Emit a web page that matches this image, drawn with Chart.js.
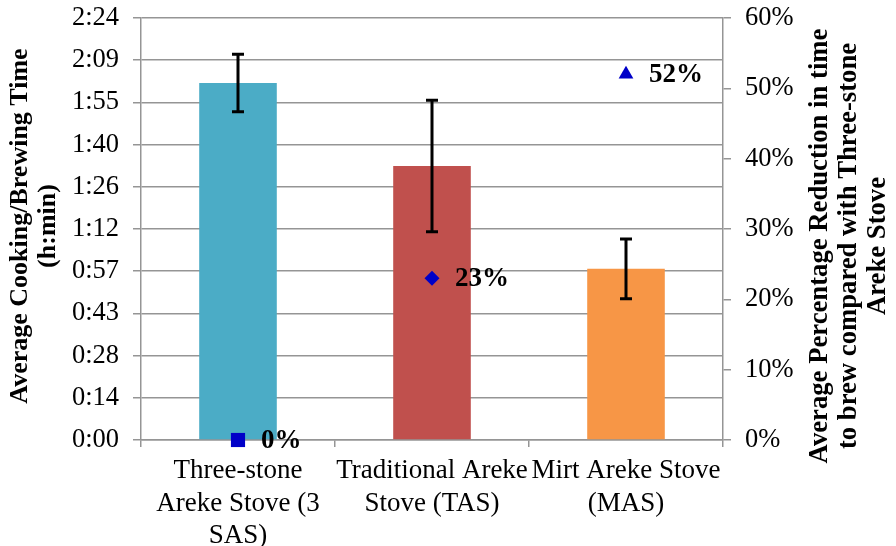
<!DOCTYPE html>
<html>
<head>
<meta charset="utf-8">
<script src="https://cdn.jsdelivr.net/npm/chart.js@4.4.1/dist/chart.umd.min.js"></script>
<style>
  html, body { margin: 0; padding: 0; background: #fff; }
  #wrap { width: 896px; height: 546px; }
</style>
</head>
<body>
<div id="wrap"><canvas id="c" width="896" height="546"></canvas></div>
<script>
// ---- Data ----
const categories = [
  ['Three-stone', 'Areke Stove (3', 'SAS)'],
  ['Traditional Areke', 'Stove (TAS)'],
  ['Mirt Areke Stove', '(MAS)']
];
const cookingTimeMinutes = [121.8, 93.5, 58.4];   // average cooking/brewing time (minutes)
const cookingTimeError = [9.8, 22.4, 10.2];       // error bar half-length (minutes)
const reductionPct = [0, 0.23, 0.52];             // reduction vs three-stone
const leftTickLabels = ['0:00','0:14','0:28','0:43','0:57','1:12','1:26','1:40','1:55','2:09','2:24'];
const rightTickLabels = ['0%','10%','20%','30%','40%','50%','60%'];
const barColors = ['#4BACC6', '#C0504D', '#F79646'];
const markerStyles = ['rect', 'rectRot', 'triangle'];
const leftTitleLines = ['Average Cooking/Brewing Time', '(h:min)'];
const rightTitleLines = ['Average Percentage Reduction in time', 'to brew compared with Three-stone', 'Areke Stove'];

const FONT = '"Liberation Serif", "Times New Roman", serif';
const GRID = '#959595';

const errorBarPlugin = {
  id: 'errorBars',
  afterDatasetDraw(chart, args) {
    if (args.index !== 0) return;
    const ctx = chart.ctx;
    const y = chart.scales.y;
    const meta = chart.getDatasetMeta(0);
    ctx.save();
    ctx.strokeStyle = '#000';
    ctx.lineWidth = 3;
    meta.data.forEach((bar, i) => {
      const v = cookingTimeMinutes[i], e = cookingTimeError[i];
      const yt = y.getPixelForValue(v + e), yb = y.getPixelForValue(v - e);
      const x = bar.x;
      ctx.beginPath();
      ctx.moveTo(x, yt); ctx.lineTo(x, yb);
      ctx.moveTo(x - 6, yt); ctx.lineTo(x + 6, yt);
      ctx.moveTo(x - 6, yb); ctx.lineTo(x + 6, yb);
      ctx.stroke();
    });
    ctx.restore();
  }
};

const labelPlugin = {
  id: 'labelsAndTitles',
  afterDraw(chart) {
    const ctx = chart.ctx;
    ctx.save();
    ctx.fillStyle = '#000';
    // point labels
    ctx.font = 'bold 27px ' + FONT;
    ctx.textAlign = 'left';
    ctx.textBaseline = 'middle';
    chart.getDatasetMeta(1).data.forEach((pt, i) => {
      ctx.fillText(Math.round(reductionPct[i] * 100) + '%', pt.x + 23, pt.y + 1);
    });
    // axis titles
    ctx.textAlign = 'center';
    ctx.font = 'bold 26px ' + FONT;
    leftTitleLines.forEach((t, i) => {
      ctx.save();
      ctx.translate(20 + 28 * i, 226);
      ctx.rotate(-Math.PI / 2);
      ctx.fillText(t, 0, 0);
      ctx.restore();
    });
    ctx.font = 'bold 26.7px ' + FONT;
    rightTitleLines.forEach((t, i) => {
      ctx.save();
      ctx.translate(820 + 29 * i, 246);
      ctx.rotate(-Math.PI / 2);
      ctx.fillText(t, 0, 0);
      ctx.restore();
    });
    ctx.restore();
  }
};

new Chart(document.getElementById('c'), {
  type: 'bar',
  data: {
    labels: categories,
    datasets: [
      {
        type: 'bar',
        data: cookingTimeMinutes,
        backgroundColor: barColors,
        yAxisID: 'y',
        categoryPercentage: 1.0,
        barPercentage: 0.4,
        order: 1
      },
      {
        type: 'line',
        data: reductionPct,
        yAxisID: 'y1',
        showLine: false,
        pointStyle: markerStyles,
        pointRadius: [10, 7.5, 8.5],
        pointBackgroundColor: '#0000C8',
        pointBorderColor: '#0000C8',
        pointBorderWidth: 0,
        clip: false,
        order: 0
      }
    ]
  },
  options: {
    responsive: false,
    animation: false,
    events: [],
    layout: { padding: { top: 18, left: 0, right: 0, bottom: 0 } },
    plugins: { legend: { display: false }, tooltip: { enabled: false } },
    scales: {
      x: {
        grid: { display: true, drawOnChartArea: false, drawTicks: true, tickLength: 7, color: GRID, lineWidth: 1.5, offset: true },
        border: { display: true, color: GRID, width: 1.5 },
        ticks: { color: '#000', font: { family: FONT, size: 27, lineHeight: 1.2 }, padding: 8, maxRotation: 0, autoSkip: false },
        afterFit(s) { s.height = 106; }
      },
      y: {
        position: 'left',
        min: 0, max: 144,
        ticks: {
          stepSize: 14.4,
          color: '#000',
          font: { family: FONT, size: 26.5 },
          padding: 14,
          callback: (v, i) => leftTickLabels[i]
        },
        grid: { color: GRID, lineWidth: 1.5, tickLength: 8 },
        border: { color: GRID, width: 1.5 },
        afterFit(s) { s.width = 141; s.paddingTop = 0; s.paddingBottom = 0; }
      },
      y1: {
        position: 'right',
        min: 0, max: 0.6,
        ticks: {
          stepSize: 0.1,
          color: '#000',
          font: { family: FONT, size: 26.5 },
          padding: 14,
          callback: (v, i) => rightTickLabels[i]
        },
        grid: { drawOnChartArea: false, color: GRID, lineWidth: 1.5, tickLength: 8 },
        border: { color: GRID, width: 1.5 },
        afterFit(s) { s.width = 173; s.paddingTop = 0; s.paddingBottom = 0; }
      }
    }
  },
  plugins: [errorBarPlugin, labelPlugin]
});
</script>
</body>
</html>
